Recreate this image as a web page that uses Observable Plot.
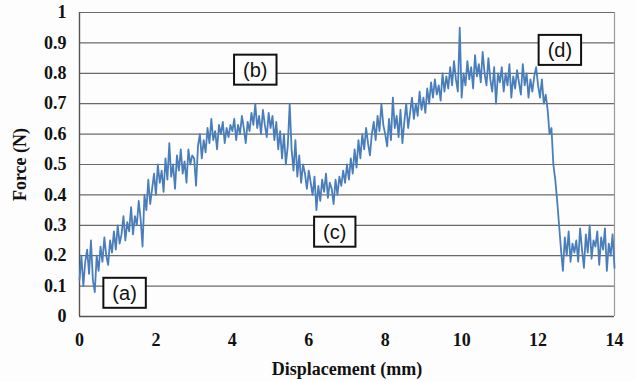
<!DOCTYPE html>
<html>
<head>
<meta charset="utf-8">
<script src="https://cdn.jsdelivr.net/npm/d3@7"></script>
<script src="https://cdn.jsdelivr.net/npm/@observablehq/plot@0.6"></script>
<style>
  html, body { margin: 0; padding: 0; background: #fdfdfd; }
  #chart { width: 636px; height: 381px; }
</style>
</head>
<body>
<div id="chart"></div>
<script>
// Sampling interval of the displacement (mm)
const displacementStep = 0.05;

// Force (N), one value per 0.05 mm from 0 to 14 mm
const force = [
  // 0–1 mm
  0.12,0.20,0.10,0.18,0.22,0.14,0.25,0.12,0.08,0.20,0.15,0.23,0.18,0.26,0.20,0.17,0.25,0.21,0.28,0.22,
  // 1–2 mm
  0.30,0.24,0.27,0.33,0.25,0.31,0.28,0.36,0.27,0.33,0.30,0.38,0.32,0.23,0.40,0.35,0.45,0.37,0.42,0.47,
  // 2–3 mm
  0.40,0.50,0.44,0.48,0.41,0.52,0.45,0.57,0.46,0.50,0.42,0.53,0.48,0.55,0.47,0.51,0.44,0.55,0.50,0.53,
  // 3–4 mm
  0.52,0.43,0.56,0.60,0.52,0.58,0.54,0.62,0.57,0.65,0.58,0.61,0.55,0.63,0.60,0.64,0.57,0.62,0.59,0.63,
  // 4–5 mm
  0.61,0.65,0.58,0.63,0.60,0.66,0.62,0.57,0.64,0.61,0.67,0.63,0.70,0.62,0.66,0.60,0.68,0.63,0.59,0.67,
  // 5–6 mm
  0.62,0.66,0.58,0.64,0.55,0.61,0.52,0.60,0.50,0.56,0.70,0.55,0.48,0.58,0.46,0.53,0.44,0.50,0.47,0.42,
  // 6–7 mm
  0.48,0.44,0.40,0.46,0.35,0.43,0.38,0.45,0.41,0.47,0.39,0.44,0.42,0.37,0.45,0.40,0.46,0.43,0.48,0.44,
  // 7–8 mm
  0.50,0.45,0.52,0.47,0.55,0.49,0.58,0.52,0.60,0.55,0.62,0.57,0.53,0.60,0.64,0.58,0.66,0.61,0.70,0.63,
  // 8–9 mm
  0.60,0.56,0.65,0.58,0.72,0.62,0.66,0.59,0.68,0.57,0.64,0.70,0.62,0.67,0.72,0.65,0.70,0.66,0.74,0.68,
  // 9–10 mm
  0.72,0.67,0.75,0.70,0.77,0.72,0.78,0.73,0.76,0.71,0.80,0.74,0.79,0.75,0.82,0.76,0.84,0.78,0.74,0.95,
  // 10–11 mm
  0.72,0.80,0.76,0.84,0.78,0.82,0.75,0.86,0.79,0.83,0.77,0.87,0.80,0.76,0.85,0.78,0.74,0.82,0.70,0.80,
  // 11–12 mm
  0.77,0.82,0.74,0.80,0.76,0.83,0.72,0.79,0.75,0.81,0.77,0.73,0.83,0.76,0.80,0.72,0.78,0.74,0.79,0.82,
  // 12–13 mm
  0.76,0.72,0.78,0.70,0.73,0.68,0.60,0.62,0.50,0.45,0.38,0.30,0.22,0.15,0.26,0.20,0.28,0.18,0.24,0.21,
  // 13–14 mm
  0.25,0.18,0.29,0.22,0.16,0.27,0.21,0.30,0.19,0.25,0.23,0.28,0.17,0.26,0.22,0.29,0.15,0.24,0.20,0.27,
  0.16
];

// Axis ticks
const xTicks = [0, 2, 4, 6, 8, 10, 12, 14];
const yTicks = [0, 0.1, 0.2, 0.3, 0.4, 0.5, 0.6, 0.7, 0.8, 0.9, 1];

// Annotations
const noteLabels = ["(a)", "(b)", "(c)", "(d)"];
const noteX = [1.18, 4.6, 6.68, 12.57];
const noteY = [0.076, 0.81, 0.277, 0.875];

const chart = Plot.plot({
  width: 636,
  height: 381,
  marginLeft: 79,
  marginRight: 22,
  marginTop: 12,
  marginBottom: 65,
  style: {
    fontFamily: "'Liberation Serif', 'Times New Roman', serif",
    fontWeight: "bold",
    fontSize: "18px",
    background: "#fdfdfd",
    color: "#111"
  },
  x: { domain: [0, 14] },
  y: { domain: [0, 1] },
  marks: [
    Plot.ruleY(yTicks.filter(d => d > 0), { stroke: "#6a6a6a", strokeWidth: 1.2 }),
    Plot.ruleX([14], { stroke: "#9a9a9a", strokeWidth: 1.2 }),
    Plot.ruleX([0], { stroke: "#555", strokeWidth: 1.4 }),
    Plot.ruleY([0], { stroke: "#555", strokeWidth: 1.4 }),
    Plot.lineY(force, {
      x: (d, i) => i * displacementStep,
      y: d => d,
      stroke: "#4a7ebb",
      strokeWidth: 1.8
    }),
    Plot.axisY(yTicks, {
      tickSize: 0,
      tickPadding: 13,
      tickFormat: d => String(+d.toFixed(1)),
      label: "Force (N)",
      labelAnchor: "center",
      labelOffset: 66,
      labelArrow: "none"
    }),
    Plot.axisX(xTicks, {
      tickSize: 0,
      tickPadding: 17,
      label: "Displacement (mm)",
      labelAnchor: "center",
      labelOffset: 58,
      labelArrow: "none"
    }),
    Plot.text(noteLabels, {
      x: (d, i) => noteX[i],
      y: (d, i) => noteY[i],
      text: d => d,
      fontFamily: "'Liberation Sans', Arial, sans-serif",
      fontWeight: "normal",
      fontSize: 20,
      fill: "#111"
    })
  ]
});

document.getElementById("chart").appendChild(chart);

// Draw white boxes with black borders behind the annotation texts
chart.querySelectorAll('g[aria-label="text"] text').forEach(t => {
  const bb = t.getBBox();
  const rect = document.createElementNS("http://www.w3.org/2000/svg", "rect");
  rect.setAttribute("x", bb.x - 9);
  rect.setAttribute("y", bb.y - 4);
  rect.setAttribute("width", bb.width + 18);
  rect.setAttribute("height", bb.height + 8);
  rect.setAttribute("fill", "#fff");
  rect.setAttribute("stroke", "#111");
  rect.setAttribute("stroke-width", 2);
  const tr = t.getAttribute("transform");
  if (tr) rect.setAttribute("transform", tr);
  t.parentNode.insertBefore(rect, t);
});
</script>
</body>
</html>
